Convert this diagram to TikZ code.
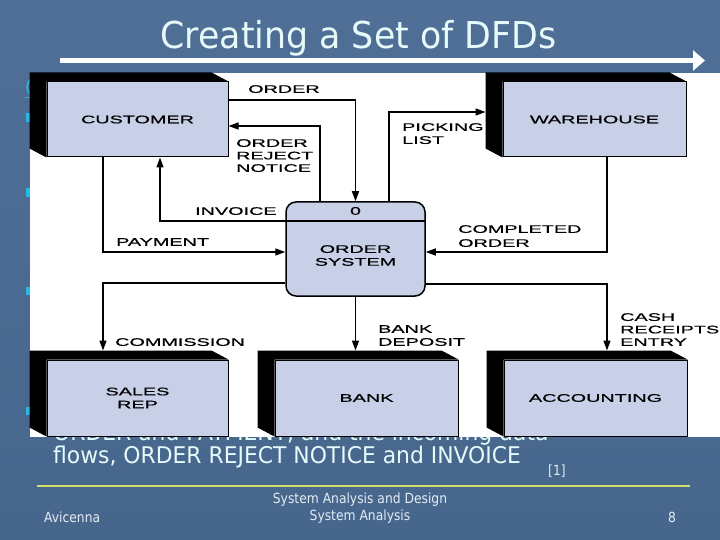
\documentclass[tikz,border=0pt]{standalone}
\usepackage{fontspec}
\usetikzlibrary{arrows.meta,calc}
\newfontfamily\labfont[FakeStretch=1.8,FakeBold=0.7]{Liberation Sans}
\newfontfamily\titlefont[FakeStretch=0.94]{DejaVu Sans}
\newfontfamily\bodyfont[FakeStretch=0.95]{DejaVu Sans}
\newfontfamily\footfont[FakeStretch=0.88]{DejaVu Sans}
\definecolor{bgtop}{HTML}{4F6F97}
\definecolor{bgbot}{HTML}{46668C}
\definecolor{titlec}{HTML}{E6FAFA}
\definecolor{facec}{HTML}{C8D0E8}
\definecolor{footline}{HTML}{D2E06A}
\definecolor{bulletc}{HTML}{25B8E8}
\definecolor{footc}{HTML}{E4ECF4}
\tikzset{
  ent/.style={draw=black, line width=1pt, fill=facec, inner sep=0pt, align=center,
    font=\labfont\fontsize{11}{13}\selectfont},
  proc/.style={draw=black, line width=1.5pt, fill=facec, rounded corners=10pt, inner sep=0pt},
  flow/.style={draw=black, line width=1.4pt, -{Triangle[length=10pt,width=7pt]}},
  lab/.style={font=\labfont\fontsize{11}{12.8}\selectfont, inner sep=0pt, anchor=north west,
    align=left, text=black},
  bodytxt/.style={font=\bodyfont\fontsize{23}{25}\selectfont, text=titlec, inner sep=0pt, anchor=base west},
  foottxt/.style={font=\footfont\fontsize{14}{16}\selectfont, text=footc, inner sep=0pt}
}
\newcommand{\entshadow}[1]{%
  \fill[black] ([shift={(-17,-9)}]#1.north west) -- ([shift={(-17,-9)}]#1.north east)
    -- (#1.north east) -- (#1.north west) -- (#1.south west)
    -- ([shift={(-17,-9)}]#1.south west) -- cycle;}
\begin{document}
\begin{tikzpicture}[x=1pt,y=-1pt]
\useasboundingbox (0,0) rectangle (720,540);
% background
\shade[top color=bgtop, bottom color=bgbot] (0,0) rectangle (720,540);
% title
\node[font=\titlefont\fontsize{37}{40}\selectfont, text=titlec, anchor=base, inner sep=0pt] (title) at (358.5,49) {Creating a Set of DFDs};
\coordinate (arrA) at (60,60.5);
\coordinate (arrB) at (705,60.5);
\draw[white, line width=5pt, -{Triangle[length=12pt,width=20pt]}] (arrA) -- (arrB);
% partially hidden bullet text
\node[bodytxt] (body1) at (53,440) {ORDER and PAYMENT, and the incoming data};
\node[bodytxt] (body2) at (53,463) {flows, ORDER REJECT NOTICE and INVOICE};
\node[foottxt, anchor=base west] (ref) at (548,475) {[1]};
% bullets peeking out
\fill[bulletc] (26,113) rectangle (30,122);
\fill[bulletc] (26,188) rectangle (30,197);
\fill[bulletc] (26,287) rectangle (30,295);
\fill[bulletc] (26,407) rectangle (30,415);
\draw[bulletc, line width=1.5pt] (30.5,79) .. controls (26,83) and (26,91) .. (30.5,95);
\draw[bulletc, line width=1pt] (25,97.5) -- (30,97.5);
% white diagram panel
\fill[white] (30,73) rectangle (720,437);
% entities
\node[ent, minimum width=181pt, minimum height=75pt] (cust) at (137.5,119.5) {CUSTOMER};
\node[ent, minimum width=183pt, minimum height=75pt] (ware) at (594.5,119.5) {WAREHOUSE};
\node[ent, minimum width=181pt, minimum height=76pt] (sales) at (137.5,398) {SALES\\REP};
\node[ent, minimum width=183pt, minimum height=76pt] (bank) at (366.5,398) {BANK};
\node[ent, minimum width=183pt, minimum height=76pt] (acct) at (595.5,398) {ACCOUNTING};
\entshadow{cust}
\entshadow{ware}
\entshadow{sales}
\entshadow{bank}
\entshadow{acct}
% process
\node[proc, minimum width=139pt, minimum height=94pt] (os) at (355.5,249) {};
\draw[line width=1.2pt] (os.west |- 0,221) -- (os.east |- 0,221);
\node[lab, anchor=center] (osnum) at (355.5,211) {0};
\node[lab, anchor=center, align=center] (osname) at (355.5,255.5) {ORDER\\SYSTEM};
% helper coordinates on shadow edges
\coordinate (wareL) at ([xshift=-17pt]ware.west);
\coordinate (salesT) at ([yshift=9pt]sales.north);
\coordinate (bankT) at ([yshift=9pt]bank.north);
\coordinate (acctT) at ([yshift=9pt]acct.north);
% flows
\draw[flow] (cust.east |- 0,100) -| (os.north);
\draw[flow] (os.north -| 320,0) |- (cust.east |- 0,126);
\draw[flow] (os.west |- 0,221) -| (cust.south -| 160,0);
\draw[flow] (cust.south -| 103,0) |- (os.west |- 0,252);
\draw[flow] (os.north -| 389,0) |- (wareL |- 0,112);
\draw[flow] (ware.south -| 607,0) |- (os.east |- 0,252);
\draw[flow] (os.west |- 0,283) -| (salesT -| 103,0);
\draw[flow] (os.south) -- (os.south |- bankT);
\draw[flow] (os.east |- 0,284) -| (acctT -| 607,0);
% flow labels
\node[lab] (lorder) at (248,85) {ORDER};
\node[lab, font=\labfont\fontsize{11}{12.5}\selectfont] (lreject) at (236,139) {ORDER\\REJECT\\NOTICE};
\node[lab] (linv) at (195,207) {INVOICE};
\node[lab] (lpay) at (116,238) {PAYMENT};
\node[lab, font=\labfont\fontsize{11}{13}\selectfont] (lpick) at (402,123) {PICKING\\LIST};
\node[lab, font=\labfont\fontsize{11}{14}\selectfont] (lcomp) at (458,225) {COMPLETED\\ORDER};
\node[lab] (lcomm) at (115,338) {COMMISSION};
\node[lab, font=\labfont\fontsize{11}{13}\selectfont] (ldep) at (378,325) {BANK\\DEPOSIT};
\node[lab, font=\labfont\fontsize{11}{12.5}\selectfont] (lcash) at (620,313) {CASH\\RECEIPTS\\ENTRY};
% footer
\draw[footline, line width=2.5pt] (37,486) -- (690,486);
\node[foottxt] (ft1) at (360,500) {System Analysis and Design};
\node[foottxt] (ft2) at (360,517) {System Analysis};
\node[foottxt, anchor=west] (ft3) at (44,517) {Avicenna};
\node[foottxt] (ft4) at (672,517) {8};
\end{tikzpicture}
\end{document}
